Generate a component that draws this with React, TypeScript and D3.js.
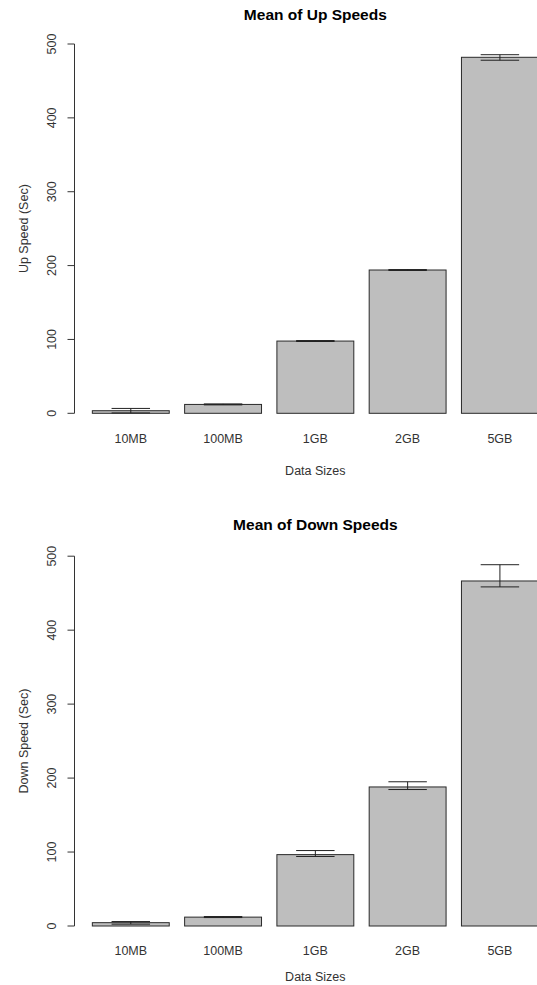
import React from "react";
import * as d3 from "d3";

const categories = ["10MB", "100MB", "1GB", "2GB", "5GB"];
const yTicks = [0, 100, 200, 300, 400, 500];

const upMean = [3.5, 12, 97.8, 194, 482];
const upLower = [0.5, 11.4, 97.2, 193.4, 478];
const upUpper = [6.6, 12.7, 98.5, 194.6, 485.5];

const downMean = [4.5, 12, 96.5, 188, 466.5];
const downLower = [2.5, 11.4, 94, 184.5, 458.5];
const downUpper = [6, 12.8, 102, 195, 488.5];

const W = 537;
const H = 985;
const FONT = "'Liberation Sans', Arial, sans-serif";

type PanelProps = {
  title: string;
  ylab: string;
  mean: number[];
  lower: number[];
  upper: number[];
  y0: number;
  y500: number;
  titleY: number;
  tickLabelY: number;
  xlabY: number;
};

function Panel({ title, ylab, mean, lower, upper, y0, y500, titleY, tickLabelY, xlabY }: PanelProps) {
  // R barplot geometry: bars width 1, space 0.2, xlim extended by 4%
  const x = d3.scaleLinear().domain([-0.032, 6.232]).range([74.5, 74.5 + 6.264 * 76.9]);
  const y = d3.scaleLinear().domain([0, 500]).range([y0, y500]);
  const bw = x(1) - x(0);
  const left = (i: number) => x(0.2 + i * 1.2);
  const center = (i: number) => x(0.7 + i * 1.2);
  const axisX = x(-0.032);
  const capHalf = bw / 4;
  const plotCenter = (x.range()[0] + x.range()[1]) / 2;

  return (
    <g>
      <text x={plotCenter} y={titleY} textAnchor="middle" fontFamily={FONT} fontWeight="bold" fontSize={15.5} fill="#000">
        {title}
      </text>
      {/* bars */}
      {mean.map((m, i) => (
        <rect
          key={"b" + i}
          x={left(i)}
          y={y(m)}
          width={bw}
          height={y(0) - y(m)}
          fill="#bebebe"
          stroke="#2a2a2a"
          strokeWidth={1}
        />
      ))}
      {/* error bars */}
      {mean.map((m, i) => (
        <g key={"e" + i} stroke="#222" strokeWidth={1}>
          <line x1={center(i)} x2={center(i)} y1={y(lower[i])} y2={y(upper[i])} />
          <line x1={center(i) - capHalf} x2={center(i) + capHalf} y1={y(lower[i])} y2={y(lower[i])} />
          <line x1={center(i) - capHalf} x2={center(i) + capHalf} y1={y(upper[i])} y2={y(upper[i])} />
        </g>
      ))}
      {/* y axis */}
      <line x1={axisX} x2={axisX} y1={y(0)} y2={y(500)} stroke="#333" strokeWidth={1} />
      {yTicks.map((t) => (
        <g key={"t" + t}>
          <line x1={axisX - 7} x2={axisX} y1={y(t)} y2={y(t)} stroke="#333" strokeWidth={1} />
          <text
            transform={`translate(56.2,${y(t)}) rotate(-90)`}
            textAnchor="middle"
            fontFamily={FONT}
            fontSize={12.5}
            fill="#333"
          >
            {String(t)}
          </text>
        </g>
      ))}
      <text
        transform={`translate(27.5,${(y(0) + y(500)) / 2}) rotate(-90)`}
        textAnchor="middle"
        fontFamily={FONT}
        fontSize={12.5}
        fill="#333"
      >
        {ylab}
      </text>
      {/* x category labels */}
      {categories.map((c, i) => (
        <text key={"c" + i} x={center(i)} y={tickLabelY} textAnchor="middle" fontFamily={FONT} fontSize={12.5} fill="#333">
          {c}
        </text>
      ))}
      <text x={plotCenter} y={xlabY} textAnchor="middle" fontFamily={FONT} fontSize={12.5} fill="#333">
        Data Sizes
      </text>
    </g>
  );
}

export default function App() {
  return (
    <svg
      width={W}
      height={H}
      style={{ position: "absolute", left: 0, top: 0, background: "#fff" }}
    >
      <rect x={0} y={0} width={W} height={H} fill="#fff" />
      <Panel
        title="Mean of Up Speeds"
        ylab="Up Speed (Sec)"
        mean={upMean}
        lower={upLower}
        upper={upUpper}
        y0={413.3}
        y500={44}
        titleY={19.5}
        tickLabelY={443}
        xlabY={475}
      />
      <Panel
        title="Mean of Down Speeds"
        ylab="Down Speed (Sec)"
        mean={downMean}
        lower={downLower}
        upper={downUpper}
        y0={926}
        y500={556.2}
        titleY={530}
        tickLabelY={955}
        xlabY={980.5}
      />
    </svg>
  );
}
